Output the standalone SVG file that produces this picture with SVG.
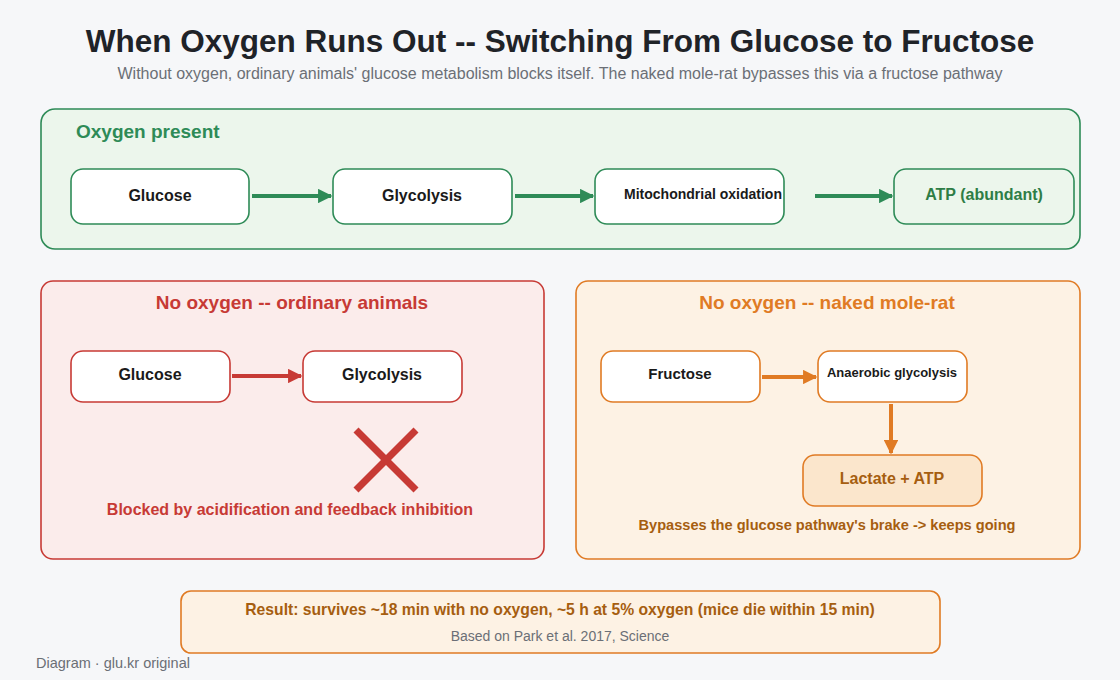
<svg xmlns="http://www.w3.org/2000/svg" width="1120" height="680" viewBox="0 0 1120 680">
<defs>
<style>
text{font-family:"Liberation Sans",Arial,sans-serif}
.node{fill:#fff;stroke-width:1.6}
.lbl{font-weight:bold;text-anchor:middle}
.g{stroke:#2e8b57}.r{stroke:#c73a35}.o{stroke:#e07b24}
</style>
<marker id="ag" viewBox="0 0 10 10" refX="9" refY="5" markerWidth="3.6" markerHeight="3.6" orient="auto"><path d="M0,0L10,5L0,10z" fill="#2e8b57"/></marker>
<marker id="ar" viewBox="0 0 10 10" refX="9" refY="5" markerWidth="3.6" markerHeight="3.6" orient="auto"><path d="M0,0L10,5L0,10z" fill="#c73a35"/></marker>
<marker id="ao" viewBox="0 0 10 10" refX="9" refY="5" markerWidth="3.6" markerHeight="3.6" orient="auto"><path d="M0,0L10,5L0,10z" fill="#e07b24"/></marker>
</defs>
<rect width="1120" height="680" fill="#f6f7f9"/>
<text x="560" y="52" text-anchor="middle" font-size="31.5" font-weight="bold" fill="#1f2328">When Oxygen Runs Out -- Switching From Glucose to Fructose</text>
<text x="560" y="79" text-anchor="middle" font-size="16" fill="#6b6f76">Without oxygen, ordinary animals' glucose metabolism blocks itself. The naked mole-rat bypasses this via a fructose pathway</text>

<g id="panel-oxygen">
<rect x="41" y="109" width="1039" height="140" rx="14" fill="#ecf6ec" stroke="#2e8b57" stroke-width="1.6"/>
<text x="76" y="138" font-size="19" font-weight="bold" fill="#2e8b57">Oxygen present</text>
</g>
<g id="n-glucose1"><rect class="node g" x="71" y="169" width="178" height="55" rx="12"/><text class="lbl" x="160" y="201" font-size="16" fill="#1a1a1a">Glucose</text></g>
<g id="n-glycolysis1"><rect class="node g" x="333" y="169" width="179" height="55" rx="12"/><text class="lbl" x="422" y="201" font-size="16" fill="#1a1a1a">Glycolysis</text></g>
<g id="n-mito"><rect class="node g" x="595" y="169" width="189" height="55" rx="12"/><text class="lbl" x="703" y="199" font-size="14" fill="#1a1a1a">Mitochondrial oxidation</text></g>
<g id="n-atp"><rect x="894" y="169" width="180" height="55" rx="12" fill="#ecf6ec" stroke="#2e8b57" stroke-width="1.6"/><text class="lbl" x="984" y="200" font-size="16" fill="#2e7d46">ATP (abundant)</text></g>

<g id="panel-ordinary">
<rect x="41" y="281" width="503" height="278" rx="12" fill="#fbeceb" stroke="#c73a35" stroke-width="1.6"/>
<text x="292" y="309" text-anchor="middle" font-size="19" font-weight="bold" fill="#c73a35">No oxygen -- ordinary animals</text>
<text x="290" y="515" text-anchor="middle" font-size="16" font-weight="bold" fill="#c73a35">Blocked by acidification and feedback inhibition</text>
</g>
<g id="n-glucose2"><rect class="node r" x="71" y="351" width="159" height="51" rx="12"/><text class="lbl" x="150" y="380" font-size="16" fill="#1a1a1a">Glucose</text></g>
<g id="n-glycolysis2"><rect class="node r" x="303" y="351" width="159" height="51" rx="12"/><text class="lbl" x="382" y="380" font-size="16" fill="#1a1a1a">Glycolysis</text></g>
<g id="blocked-x" stroke="#c73a35" stroke-width="7"><line x1="356" y1="430" x2="416" y2="490"/><line x1="416" y1="430" x2="356" y2="490"/></g>

<g id="panel-molerat">
<rect x="576" y="281" width="504" height="278" rx="12" fill="#fdf2e4" stroke="#e07b24" stroke-width="1.6"/>
<text x="827" y="309" text-anchor="middle" font-size="19" font-weight="bold" fill="#e07b24">No oxygen -- naked mole-rat</text>
<text x="827" y="530" text-anchor="middle" font-size="14.6" font-weight="bold" fill="#a65e10">Bypasses the glucose pathway's brake -&gt; keeps going</text>
</g>
<g id="n-fructose"><rect class="node o" x="601" y="351" width="159" height="51" rx="12"/><text class="lbl" x="680" y="379" font-size="15" fill="#1a1a1a">Fructose</text></g>
<g id="n-anaerobic"><rect class="node o" x="818" y="351" width="149" height="51" rx="12"/><text class="lbl" x="892" y="377" font-size="13" fill="#1a1a1a">Anaerobic glycolysis</text></g>
<g id="n-lactate"><rect x="803" y="455" width="179" height="51" rx="12" fill="#fbe6cc" stroke="#e07b24" stroke-width="1.6"/><text class="lbl" x="892" y="484" font-size="16" fill="#a65e10">Lactate + ATP</text></g>

<g id="connectors" stroke-width="4" fill="none">
<line x1="252" y1="196" x2="331" y2="196" stroke="#2e8b57" marker-end="url(#ag)"/>
<line x1="515" y1="196" x2="593" y2="196" stroke="#2e8b57" marker-end="url(#ag)"/>
<line x1="815" y1="196" x2="892" y2="196" stroke="#2e8b57" marker-end="url(#ag)"/>
<line x1="232" y1="376" x2="301" y2="376" stroke="#c73a35" marker-end="url(#ar)"/>
<line x1="762" y1="377" x2="816" y2="377" stroke="#e07b24" marker-end="url(#ao)"/>
<line x1="891" y1="404" x2="891" y2="453" stroke="#e07b24" marker-end="url(#ao)"/>
</g>

<g id="result">
<rect x="181" y="591" width="759" height="62" rx="10" fill="#fdf2e4" stroke="#e07b24" stroke-width="1.6"/>
<text x="560" y="615" text-anchor="middle" font-size="15.7" font-weight="bold" fill="#a65e10">Result: survives ~18 min with no oxygen, ~5 h at 5% oxygen (mice die within 15 min)</text>
<text x="560" y="641" text-anchor="middle" font-size="14" fill="#6b6f76">Based on Park et al. 2017, Science</text>
</g>
<text x="36" y="668" font-size="14.5" fill="#6b6f76">Diagram · glu.kr original</text>
</svg>
